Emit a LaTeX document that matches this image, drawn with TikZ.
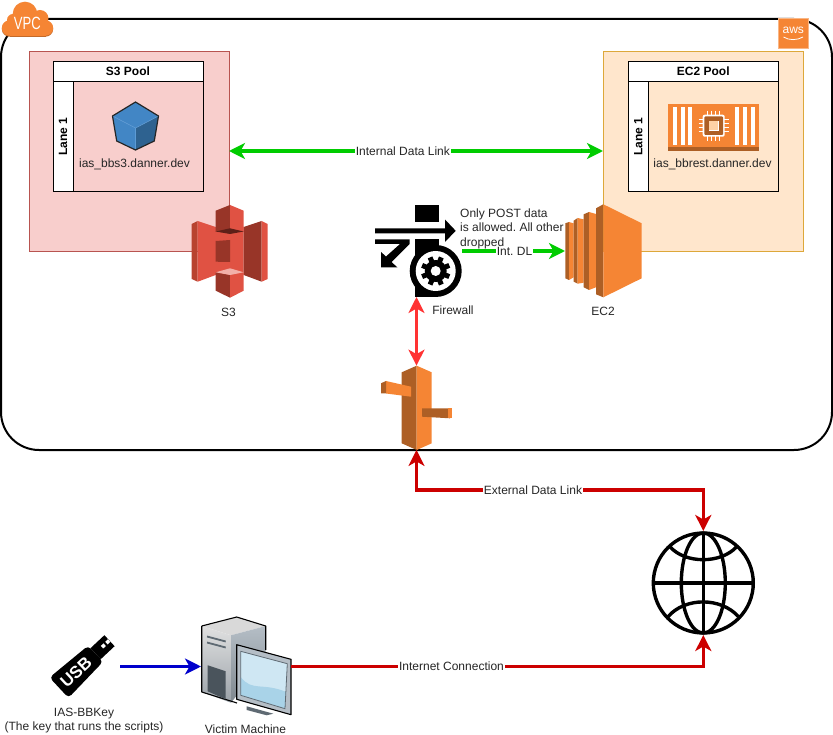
\documentclass[tikz,border=0pt]{standalone}
\usepackage{fontspec}
\setmainfont{Liberation Sans}
\usetikzlibrary{arrows.meta,calc,positioning}
\definecolor{awsorange}{HTML}{F58534}
\definecolor{awsbrown}{HTML}{AD5F25}
\definecolor{s3light}{HTML}{E05243}
\definecolor{s3dark}{HTML}{983528}
\definecolor{s3edge}{HTML}{B8432F}
\definecolor{s3shade}{HTML}{5E1F18}
\definecolor{s3pale}{HTML}{F2B0A9}
\definecolor{pinkfill}{HTML}{F8CECC}
\definecolor{pinkedge}{HTML}{B85450}
\definecolor{peachfill}{HTML}{FFE6CC}
\definecolor{peachedge}{HTML}{DDA83A}
\definecolor{linkgreen}{HTML}{00CC00}
\definecolor{linkred}{HTML}{CC0000}
\definecolor{linkpink}{HTML}{FF3333}
\definecolor{linkblue}{HTML}{0000CC}
\definecolor{cubeblue}{HTML}{4286C5}
\definecolor{cubedark}{HTML}{2E6290}
\definecolor{cubepale}{HTML}{5D9BD5}
\definecolor{pcslot}{HTML}{5F6A73}
\definecolor{pcvent}{HTML}{4A545C}
\definecolor{pcframe}{HTML}{B5BEC6}
\definecolor{screenhigh}{HTML}{CFE7F3}
\definecolor{screenlow}{HTML}{A9D3E8}
\frenchspacing

\begin{document}
\begin{tikzpicture}[
  x=1pt,y=-1pt,
  >={Stealth[length=16pt,width=16pt,inset=4.5pt]},
  font=\fontsize{12}{14.4}\selectfont,
  vpcbox/.style={draw=black,line width=2pt,rounded corners=38pt,minimum width=831pt,minimum height=431pt,outer sep=0pt},
  poolbox/.style={draw,minimum width=200pt,minimum height=200pt,outer sep=0pt},
  lanehead/.style={draw=black,fill=white,line width=1pt,minimum width=150pt,minimum height=20pt,inner sep=0pt,outer sep=0pt,font=\fontsize{12}{14}\selectfont\bfseries},
  laneside/.style={draw=black,fill=white,line width=1pt,minimum width=20pt,minimum height=110pt,inner sep=0pt,outer sep=0pt},
  lanebody/.style={draw=black,line width=1pt,minimum width=130pt,minimum height=110pt,inner sep=0pt,outer sep=0pt},
  iconbox/.style={inner sep=0pt,outer sep=0pt},
  caption/.style={inner sep=0pt,align=center,text=black!85},
  linklabel/.style={fill=white,inner sep=0.8pt,text=black!85},
  greenlink/.style={draw=linkgreen,line width=3.2pt},
  pinklink/.style={draw=linkpink,line width=3.2pt},
  redlink/.style={draw=linkred,line width=3.2pt},
  bluelink/.style={draw=linkblue,line width=3.2pt},
  globeline/.style={draw=black,line width=3.4pt}
]
\useasboundingbox (0,0) rectangle (833,735);
% VPC frame
\node[vpcbox] (vpc) at (416.5,234.5) {};
\node[iconbox,fill=awsorange,draw=awsorange!60,minimum size=30pt] (awsmark) at (793.3,33.3) {};
\node[iconbox,text=white,font=\fontsize{12}{12}\selectfont] (awstext) at (793.3,30.2) {aws};
\draw[white,line width=0.8pt] (783.5,37) .. controls (789,40.5) and (797,40.5) .. (803,37);
% VPC cloud
\fill[awsbrown!70!awsorange] (10,30) rectangle (46,37);
\foreach \cx/\cy/\cr in {9.5/29/7.7,45.5/29/7.7}{
  \fill[awsbrown!70!awsorange] (\cx,\cy) circle (\cr);
}
\foreach \cx/\cy/\cr in {9.5/28/7.7,45.5/28/7.7,25/14/12.3,40/18.5/8.5,13/20/6}{
  \fill[awsorange] (\cx,\cy) circle (\cr);
}
\fill[awsorange] (10,20) rectangle (46,35.7);
\node[iconbox,text=white,font=\fontsize{17.7}{18}\selectfont] (vpctag) at (27.3,23.5) {\scalebox{0.74}[1]{VPC}};
% pools
\node[poolbox,draw=pinkedge,fill=pinkfill] (s3pool) at (129,151) {};
\node[poolbox,draw=peachedge,fill=peachfill] (ec2pool) at (703,151) {};
\foreach \pid/\px/\ptitle in {s3/128/S3 Pool,ec2/703.3/EC2 Pool}{
  \node[lanehead] (\pid head) at (\px,71.7) {\ptitle};
  \node[laneside,anchor=north west] (\pid side) at (\pid head.south west) {};
  \node[rotate=90,font=\fontsize{12}{14}\selectfont\bfseries,inner sep=0pt] (\pid lane) at (\pid side.center) {Lane 1};
  \node[lanebody,anchor=north west] (\pid body) at (\pid side.north east) {};
}
% S3 bucket object
\node[iconbox,minimum width=46pt,minimum height=48pt] (bucket) at (135.5,126) {};
\fill[cubeblue] (112.5,116) -- (135.5,102) -- (158.5,116) -- (135.5,128) -- cycle;
\fill[cubeblue] (112.5,116) -- (135.5,128) -- (135.5,150) -- (116.7,141) -- cycle;
\fill[cubedark] (158.5,116) -- (135.5,128) -- (135.5,150) -- (154.3,141) -- cycle;
\draw[cubepale,line width=0.6pt] (112.5,116) -- (135.5,128) -- (158.5,116) (135.5,128) -- (135.5,150);
\draw[black!85,line width=1.2pt,line join=round] (112.5,116) -- (135.5,102) -- (158.5,116) -- (154.3,141) -- (135.5,150) -- (116.7,141) -- cycle;
\node[caption] (bucketname) at (134.5,164) {ias\_bbs3.danner.dev};
% EC2 instance chip
\node[iconbox,fill=awsorange,minimum width=90.7pt,minimum height=46.7pt] (chip) at (713.6,127.3) {};
\fill[awsbrown] (668.3,147) rectangle (759,150.7);
\foreach \bx in {672.7,680.7,688.3,735.2,743.2,751}{
  \fill[white] (\bx,107.3) rectangle (\bx+4,144.7);
}
\foreach \off in {-6,-2,2,6}{
  \draw[white,line width=1pt] (713.7+\off,110.7) -- (713.7+\off,140.7) (698.7,125.7+\off) -- (728.7,125.7+\off);
}
\fill[white,rounded corners=2pt] (702.7,114.7) rectangle (724.7,136.7);
\fill[awsbrown,rounded corners=1pt] (704.4,116.4) rectangle (723,135);
\fill[white] (708.7,120.7) rectangle (718.7,130.7);
\fill[orange!35!white] (709.4,121.4) rectangle (718,130);
\node[caption] (chipname) at (712.5,164) {ias\_bbrest.danner.dev};
% S3
\node[iconbox,minimum width=77pt,minimum height=93pt] (s3) at (229.5,251.5) {};
\fill[s3edge] (191.7,224) -- (197.7,221) -- (197.7,281.7) -- (191.7,279) -- cycle;
\fill[s3light] (197.7,221) -- (215.7,227) -- (243.7,227) -- (243.7,275) -- (215.7,275) -- (197.7,281.7) -- cycle;
\fill[s3dark] (243.7,227) -- (261.7,221) -- (261.7,281.7) -- (243.7,275) -- cycle;
\fill[s3light] (261.7,221) -- (267.7,224) -- (267.7,279) -- (261.7,281.7) -- cycle;
\fill[s3dark] (215.7,210.7) -- (230,205) -- (230,233) -- (215.7,231.5) -- cycle;
\fill[s3light] (243.7,210.7) -- (230,205) -- (230,233) -- (243.7,231.5) -- cycle;
\fill[s3shade] (215.7,231.5) -- (230,228.3) -- (243.7,231.5) -- (230,234) -- cycle;
\fill[s3dark] (215.7,241) -- (230,240) -- (230,262) -- (215.7,261.7) -- cycle;
\fill[s3dark] (215.7,272.3) -- (230,275) -- (230,297.7) -- (215.7,290.7) -- cycle;
\fill[s3light] (243.7,272.3) -- (230,275) -- (230,297.7) -- (243.7,290.7) -- cycle;
\fill[s3pale] (215.7,272.3) -- (230,268.3) -- (243.7,272.3) -- (230,275) -- cycle;
\node[caption] (s3name) at (228.5,312) {S3};
% EC2
\node[iconbox,minimum width=77pt,minimum height=93pt] (ec2) at (603.5,251) {};
\foreach \sa/\sb/\sc/\st/\su/\sv/\sw/\sx/\sy in {565.3/569/573.5/223.3/222/223.3/278.3/280/277.3,573.7/577.7/583.5/220.7/218/219.3/281.7/283.7/282.7,583.7/589/596/214.3/212/214/287.3/290/287.3}{
  \fill[awsbrown] (\sa,\st) -- (\sb,\su) -- (\sb,\sx) -- (\sa,\sw) -- cycle;
  \fill[awsorange] (\sb,\su) -- (\sc,\sv) -- (\sc,\sy) -- (\sb,\sx) -- cycle;
}
\fill[awsbrown] (596,208.3) -- (603.3,204.3) -- (603.3,297.3) -- (596,294.3) -- cycle;
\fill[awsorange] (603.3,204.3) -- (641.7,223.3) -- (641.7,278.3) -- (603.3,297.3) -- cycle;
\node[caption] (ec2name) at (603,311) {EC2};
% Firewall
\node[iconbox,minimum width=91pt,minimum height=92pt] (firewall) at (416.5,251) {};
\fill (415.3,205) rectangle (438.7,222.3);
\fill (375,228.3) -- (445,228.3) -- (445,219.5) -- (455.7,230.8) -- (445,242) -- (445,233.4) -- (375,233.4) -- cycle;
\fill (375,239.5) -- (409.5,239.5) -- (409.5,244) -- (391.5,262) -- (397.3,267.3) -- (381,267.3) -- (381,252) -- (386,256.5) -- (400,244) -- (375,244) -- cycle;
\fill (415.3,239.5) rectangle (438.7,255);
\fill (415.3,275) rectangle (438,296.7);
\fill (435.7,271) circle (26);
\fill[white] (435.7,271) circle (20);
\fill (435.7,271) circle (11);
\foreach \a in {0,45,...,315}{
  \draw[line width=5pt] (435.7,271) -- ++(\a+22.5:14.7);
}
\fill[white] (435.7,271) circle (5);
\node[caption] (firewallname) at (453,310) {Firewall};
% Gateway
\node[iconbox,minimum width=71pt,minimum height=84.3pt] (gateway) at (416.5,407.8) {};
\fill[awsbrown] (401.7,372.3) -- (416.7,365.7) -- (416.7,450) -- (401.7,443.3) -- cycle;
\fill[awsorange] (431.7,372.3) -- (416.7,365.7) -- (416.7,450) -- (431.7,443.3) -- cycle;
\fill[awsorange] (386,381) -- (411,386.7) -- (411,396.7) -- (386,393.5) -- cycle;
\fill[awsbrown] (381,383.3) -- (386,381) -- (386,393.5) -- (381,393.3) -- cycle;
\fill[awsbrown] (422,408.3) -- (450,408.3) -- (450,418.3) -- (422,416.7) -- cycle;
\fill[awsorange] (448.3,408.3) rectangle (451.7,418.3);
% Globe
\node[iconbox,circle,minimum size=104pt] (globe) at (703.3,583) {};
\draw[globeline] (703.3,583) circle (50);
\draw[globeline] (703.3,583) ellipse (22 and 50);
\draw[globeline] (703.3,533) -- (703.3,633) (653.3,583) -- (753.3,583);
\draw[globeline] (670,546.7) .. controls (685,564) and (721,564) .. (736.7,546.7);
\draw[globeline] (668,616.7) .. controls (685,597) and (721,597) .. (738.5,616.7);
% USB key
\node[iconbox,minimum width=72pt,minimum height=60pt] (usbkey) at (84,666.5) {};
\fill (100.7,659.2) -- (90.5,648.2) -- (104.4,635.2) -- (114.6,646.2) -- cycle;
\fill[white] (105.2,641.8) -- (107.9,639.3) -- (110.3,641.9) -- (107.6,644.4) -- cycle;
\fill[white] (100.8,645.9) -- (103.5,643.4) -- (105.9,646) -- (103.2,648.5) -- cycle;
\fill[rounded corners=4pt] (68.5,697.9) -- (49.5,677.5) -- (88.1,645.7) -- (103.1,661.7) -- cycle;
\node[iconbox,rotate=43,text=white,font=\fontsize{17}{17}\selectfont\bfseries] (usbbody) at (76,672) {USB};
\node[caption] (usbname) at (84,720.5) {IAS-BBKey\\(The key that runs the scripts)};
% Victim machine
\node[iconbox,minimum width=90pt,minimum height=99pt] (machine) at (246,666.5) {};
\fill[black!15] (201.7,626) -- (236.7,617) -- (265.7,626) -- (231,635.3) -- cycle;
\shade[top color=black!12,bottom color=pcframe!85!black] (201.7,626) -- (231,635.3) -- (231,702.7) -- (201.7,692) -- cycle;
\shade[top color=pcframe,bottom color=pcslot!80] (231,635.3) -- (265.7,626) -- (265.7,660) -- (231,702.7) -- cycle;
\draw[black,line width=1.1pt,line join=round] (201.7,626) -- (236.7,617) -- (265.7,626) -- (265.7,650) (201.7,626) -- (201.7,692) -- (237,703);
\draw[pcslot,line width=1.8pt] (207,636.5) -- (225.7,641.5) (207,642.5) -- (225.7,647.5);
\fill[pcvent] (207.7,665.3) -- (225.7,671.3) -- (225.7,699.3) -- (207.7,691.3) -- cycle;
\fill[pcslot] (246.7,706.3) -- (273.3,713.7) -- (266.7,715.3) -- (246.7,710) -- cycle;
\fill[pcframe] (236.7,644.7) -- (291,659.3) -- (291,714.7) -- (236.7,699.3) -- cycle;
\draw[black,line width=1.1pt,line join=round] (236.7,644.7) -- (291,659.3) -- (291,714.7) -- (236.7,699.3) -- cycle;
\fill[screenhigh] (240.7,651.3) -- (287.3,663.7) -- (285,708.7) -- (240.7,695.3) -- cycle;
\fill[screenlow] (240.7,677) .. controls (252,692) and (262,682) .. (286.3,692) -- (285,708.7) -- (240.7,695.3) -- cycle;
\draw[pcslot,line width=0.8pt] (240.7,651.3) -- (287.3,663.7) -- (285,708.7) -- (240.7,695.3) -- cycle;
\node[caption] (machinename) at (245.5,729) {Victim Machine};
% Connectors
\draw[<->,greenlink] (s3pool.east) -- (ec2pool.west) node[pos=0.465,linklabel] (internallabel) {Internal Data Link};
\draw[->,greenlink] (firewall.east) -- (ec2.west) node[pos=0.51,linklabel] (intlabel) {Int. DL};
\draw[<->,pinklink] (firewall.south) -- (gateway.north);
\coordinate (extrail) at (533,490);
\coordinate (extleft) at (gateway.south |- extrail);
\coordinate (extright) at (globe.north |- extrail);
\draw[<->,redlink] (gateway.south) -- (extleft) -- (extright) -- (globe.north);
\node[linklabel] (externallabel) at (extrail) {External Data Link};
\coordinate (globeturn) at (globe.south |- machine.east);
\draw[->,redlink] (machine.east) -- (globeturn) -- (globe.south);
\node[linklabel] (internetlabel) at (451.5,666) {Internet Connection};
\draw[->,bluelink] (usbkey.east) -- (machine.west);
% firewall note
\node[caption,anchor=west,align=left] (firewallnote) at (460,228.5) {Only POST data\\is allowed. All other\\dropped};
\end{tikzpicture}
\end{document}
